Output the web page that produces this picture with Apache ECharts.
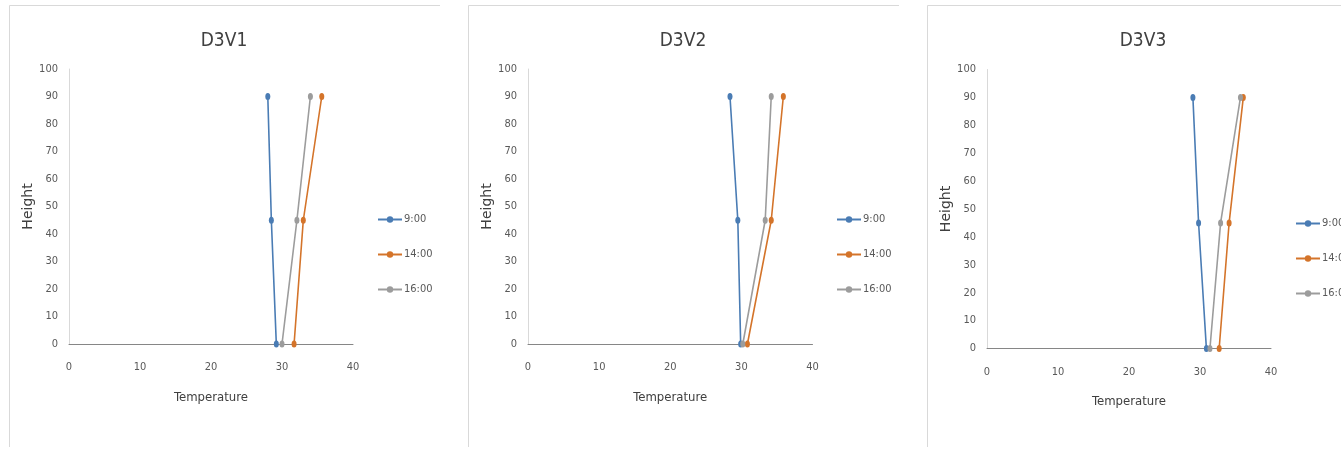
<!DOCTYPE html>
<html>
<head>
<meta charset="utf-8">
<script src="https://cdn.jsdelivr.net/npm/echarts@6/dist/echarts.min.js"></script>
<style>
html,body{margin:0;padding:0;background:#fff;}
#c{width:1341px;height:449px;}
</style>
</head>
<body>
<div id="c"></div>
<script>
// ---- data ----
const titles = ['D3V1', 'D3V2', 'D3V3'];
const seriesNames = ['9:00', '14:00', '16:00'];
const heights = [0, 45, 90];
// temperatures at heights 0, 45, 90
const d3v1_900 = [29.2, 28.5, 28.0];
const d3v1_1400 = [31.7, 33.0, 35.6];
const d3v1_1600 = [30.0, 32.1, 34.0];
const d3v2_900 = [29.9, 29.5, 28.4];
const d3v2_1400 = [30.85, 34.2, 35.9];
const d3v2_1600 = [30.2, 33.35, 34.2];
const d3v3_900 = [30.9, 29.8, 29.0];
const d3v3_1400 = [32.7, 34.1, 36.1];
const d3v3_1600 = [31.4, 32.9, 35.7];
const xTicks = [0, 10, 20, 30, 40];
const yTicks = [0, 10, 20, 30, 40, 50, 60, 70, 80, 90, 100];
const xAxisName = 'Temperature';
const yAxisName = 'Height';

const panelData = [
  [d3v1_900, d3v1_1400, d3v1_1600],
  [d3v2_900, d3v2_1400, d3v2_1600],
  [d3v3_900, d3v3_1400, d3v3_1600]
];

// ---- layout / style ----
const narrow = "'Liberation Sans Narrow','DejaVu Sans Condensed',sans-serif";
const colors = ['#4A7CB4', '#D4742A', '#9C9C9C'];
const grids = [
  {left: 69, top: 69, width: 284, height: 275},
  {left: 528, top: 69, width: 284.5, height: 275},
  {left: 987, top: 69.5, width: 284, height: 279}
];
const legendPos = [
  {left: 377, top: 214},
  {left: 836, top: 214},
  {left: 1295, top: 218}
];
const titleX = [224, 683, 1143];
const borderX = [9.5, 468.5, 927.5];
const borderRight = [440, 899, 1341];

const option = {
  backgroundColor: '#fff',
  animation: false,
  color: colors,
  title: titles.map((t, i) => ({
    text: t, left: titleX[i], top: 32, textAlign: 'center', padding: 0,
    textStyle: {fontFamily: narrow, fontSize: 19, fontWeight: 'normal', color: '#404040'}
  })),
  legend: legendPos.map(p => ({
    data: seriesNames, orient: 'vertical', left: p.left, top: p.top,
    itemWidth: 24, itemHeight: 8, itemGap: 24, padding: 0,
    selectedMode: false,
    textStyle: {fontFamily: narrow, fontSize: 11, color: '#595959', padding: [0, 0, 0, -3]}
  })),
  grid: grids.map(g => Object.assign({containLabel: false}, g)),
  xAxis: grids.map((g, i) => ({
    type: 'value', gridIndex: i, min: xTicks[0], max: xTicks[xTicks.length - 1], interval: 10,
    name: xAxisName, nameLocation: 'middle', nameGap: 47,
    nameTextStyle: {fontFamily: narrow, fontSize: 13, color: '#404040'},
    axisLine: {show: true, onZero: false, lineStyle: {color: '#868686', width: 1}},
    axisTick: {show: false},
    axisLabel: {fontFamily: narrow, fontSize: 11, color: '#595959', margin: 18},
    splitLine: {show: false}
  })),
  yAxis: grids.map((g, i) => ({
    type: 'value', gridIndex: i, min: yTicks[0], max: yTicks[yTicks.length - 1], interval: 10,
    name: yAxisName, nameLocation: 'middle', nameGap: 30,
    nameTextStyle: {fontFamily: "'DejaVu Sans',sans-serif", fontSize: 14, color: '#404040'},
    axisLine: {show: true, lineStyle: {color: '#D9D9D9', width: 1}},
    axisTick: {show: false},
    axisLabel: {fontFamily: narrow, fontSize: 11, color: '#595959', margin: 11},
    splitLine: {show: false}
  })),
  series: [],
  graphic: []
};

panelData.forEach((arrs, p) => {
  arrs.forEach((temps, s) => {
    option.series.push({
      type: 'line', name: seriesNames[s], xAxisIndex: p, yAxisIndex: p,
      data: temps.map((t, k) => [t, heights[k]]),
      symbol: 'circle', symbolSize: [5, 7],
      lineStyle: {width: 1.6, color: colors[s]},
      itemStyle: {color: colors[s]},
      z: 3
    });
  });
  option.graphic.push({
    type: 'line', silent: true,
    shape: {x1: borderX[p], y1: 5.5, x2: borderRight[p], y2: 5.5},
    style: {stroke: '#D9D9D9', lineWidth: 1}
  });
  option.graphic.push({
    type: 'line', silent: true,
    shape: {x1: borderX[p], y1: 5.5, x2: borderX[p], y2: 447},
    style: {stroke: '#D9D9D9', lineWidth: 1}
  });
});

const chart = echarts.init(document.getElementById('c'), null, {renderer: 'canvas'});
chart.setOption(option);
</script>
</body>
</html>
